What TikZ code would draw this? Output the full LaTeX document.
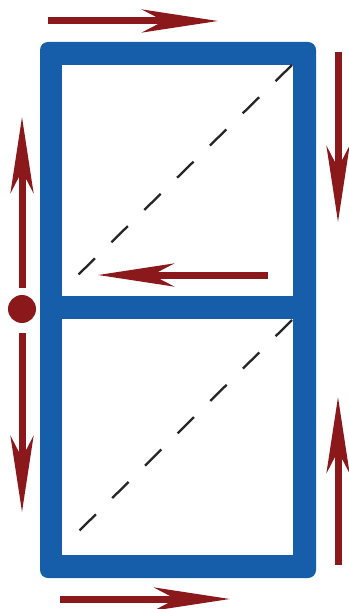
\documentclass[tikz,border=0pt]{standalone}
\usepackage{tikz}
\usetikzlibrary{arrows.meta}
\definecolor{frameblue}{RGB}{22,94,170}
\definecolor{flowred}{RGB}{139,24,26}

\begin{document}
\begin{tikzpicture}[
  x=1pt, y=-1pt,
  frame/.style={fill=frameblue, rounded corners=8pt},
  cell/.style={fill=white},
  flow/.style={draw=flowred, line width=7pt,
               -{Stealth[length=76pt, width=23pt, inset=22pt]}},
  diag/.style={draw=black!85, line width=2.3pt, dash pattern=on 23pt off 23pt},
]
  \useasboundingbox (0,0) rectangle (348,609);

  % Frame with two cells
  \fill[frame] (40,42) rectangle (316,578);
  \fill[cell] (62,65) rectangle (293,296);
  \fill[cell] (62,319) rectangle (293,555);

  % Diagonals
  \coordinate (ua) at (292,65);
  \coordinate (ub) at (78,275);
  \coordinate (la) at (292,320);
  \coordinate (lb) at (78,532);
  \path[diag] (ua) -- (ub);
  \path[diag] (la) -- (lb);

  % Start point
  \node[circle, fill=flowred, minimum size=28pt, inner sep=0pt] (src) at (22,309) {};

  % Arrow end points
  \coordinate (topS) at (48,21);   \coordinate (topE) at (218,21);
  \coordinate (rtS) at (338,52);   \coordinate (rtE) at (338,222);
  \coordinate (midS) at (268,275); \coordinate (midE) at (98,275);
  \coordinate (upS) at (22,288);   \coordinate (upE) at (22,117);
  \coordinate (dnS) at (22,333);   \coordinate (dnE) at (22,512);
  \coordinate (rbS) at (338,565);  \coordinate (rbE) at (338,397);
  \coordinate (botS) at (60,599);  \coordinate (botE) at (230,599);

  % Arrows
  \path[flow] (topS) -- (topE);
  \path[flow] (rtS) -- (rtE);
  \path[flow] (midS) -- (midE);
  \path[flow] (upS) -- (upE);
  \path[flow] (dnS) -- (dnE);
  \path[flow] (rbS) -- (rbE);
  \path[flow] (botS) -- (botE);
\end{tikzpicture}
\end{document}
